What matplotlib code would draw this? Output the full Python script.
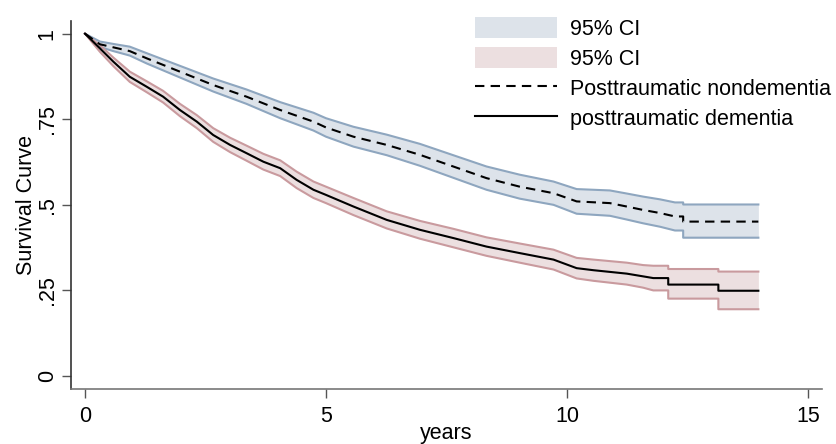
import matplotlib
matplotlib.use("Agg")
import matplotlib.pyplot as plt
from matplotlib.patches import Patch
from matplotlib.lines import Line2D

plt.rcParams['font.family'] = ['Liberation Sans', 'DejaVu Sans']

# Posttraumatic nondementia (dashed)
t_nd = [0, 0.31, 0.59, 0.93, 1.28, 1.97, 2.66, 3.35, 4.05, 4.74, 5.0, 5.57, 6.26,
        6.95, 7.64, 8.33, 9.02, 9.72, 10.2, 10.89, 11.24, 11.58, 11.93, 12.24,
        12.41, 12.41, 13.97]
s_nd = [1, 0.969, 0.960, 0.949, 0.928, 0.889, 0.850, 0.816, 0.777, 0.743, 0.726,
        0.699, 0.675, 0.646, 0.612, 0.578, 0.553, 0.534, 0.510, 0.505, 0.495,
        0.485, 0.476, 0.466, 0.466, 0.451, 0.451]
lo_nd = [1, 0.961, 0.949, 0.936, 0.913, 0.872, 0.831, 0.795, 0.753, 0.717, 0.699,
         0.670, 0.645, 0.614, 0.579, 0.544, 0.518, 0.500, 0.474, 0.468, 0.457,
         0.446, 0.436, 0.425, 0.425, 0.404, 0.404]
hi_nd = [1, 0.977, 0.970, 0.962, 0.943, 0.906, 0.869, 0.837, 0.800, 0.769, 0.753,
         0.728, 0.705, 0.678, 0.645, 0.612, 0.588, 0.568, 0.546, 0.542, 0.533,
         0.524, 0.516, 0.507, 0.507, 0.501, 0.501]

# Posttraumatic dementia (solid)
t_d = [0, 0.31, 0.59, 0.93, 1.28, 1.62, 1.97, 2.32, 2.66, 3.01, 3.35, 3.70, 4.05,
       4.39, 4.74, 5.0, 5.57, 6.26, 6.95, 7.64, 8.33, 9.02, 9.72, 10.2, 10.55,
       11.24, 11.58, 11.79, 12.1, 12.1, 13.14, 13.14, 13.97]
s_d = [1, 0.957, 0.918, 0.874, 0.845, 0.816, 0.777, 0.743, 0.704, 0.675, 0.651,
       0.626, 0.607, 0.573, 0.544, 0.529, 0.495, 0.456, 0.427, 0.403, 0.378,
       0.359, 0.340, 0.315, 0.309, 0.299, 0.291, 0.286, 0.286, 0.267, 0.267,
       0.249, 0.249]
lo_d = [1, 0.947, 0.905, 0.859, 0.829, 0.799, 0.759, 0.724, 0.684, 0.654, 0.629,
        0.603, 0.584, 0.549, 0.520, 0.505, 0.470, 0.431, 0.401, 0.376, 0.351,
        0.331, 0.311, 0.285, 0.278, 0.267, 0.258, 0.250, 0.250, 0.226, 0.226,
        0.195, 0.195]
hi_d = [1, 0.966, 0.930, 0.889, 0.861, 0.833, 0.795, 0.762, 0.724, 0.696, 0.673,
        0.649, 0.630, 0.597, 0.568, 0.553, 0.520, 0.481, 0.453, 0.430, 0.405,
        0.387, 0.369, 0.345, 0.340, 0.331, 0.324, 0.322, 0.322, 0.3125, 0.3125,
        0.305, 0.305]

x_ticks = [0, 5, 10, 15]
y_ticks = [0, 0.25, 0.5, 0.75, 1]
y_labels = ['0', '.25', '.5', '.75', '1']

blue_fill, blue_edge = '#dde3ea', '#8ea6bf'
red_fill, red_edge = '#ecdfe0', '#c99a9e'

fig = plt.figure(figsize=(8.37, 4.44), dpi=100)
ax = fig.add_axes([71 / 837, 1 - 389 / 444, 751 / 837, 368 / 444])

# confidence bands
ax.fill_between(t_nd, lo_nd, hi_nd, color=blue_fill, lw=0, zorder=1)
ax.plot(t_nd, lo_nd, color=blue_edge, lw=1.5, zorder=2)
ax.plot(t_nd, hi_nd, color=blue_edge, lw=1.5, zorder=2)
ax.fill_between(t_d, lo_d, hi_d, color=red_fill, lw=0, zorder=1)
ax.plot(t_d, lo_d, color=red_edge, lw=1.5, zorder=2)
ax.plot(t_d, hi_d, color=red_edge, lw=1.5, zorder=2)

# survival curves
ax.plot(t_nd, s_nd, color='black', lw=1.5, dashes=(4.5, 3), zorder=3)
ax.plot(t_d, s_d, color='black', lw=1.5, zorder=3)

ax.set_xlim(-0.29, 15.29)
ax.set_ylim(-0.038, 1.037)
ax.set_xticks(x_ticks)
ax.set_yticks(y_ticks)
ax.set_yticklabels(y_labels, rotation=90, va='center')
ax.tick_params(axis='both', length=6.5, width=1, color='#555555', labelsize=15.5)
ax.tick_params(axis='y', pad=3)
ax.tick_params(axis='x', pad=6)

for s in ['top', 'right']:
    ax.spines[s].set_visible(False)
ax.spines['left'].set_color('#333333')
ax.spines['bottom'].set_color('#777777')
ax.spines['left'].set_linewidth(1.2)
ax.spines['bottom'].set_linewidth(1.2)

ax.set_ylabel('Survival Curve', fontsize=15.5, labelpad=0)
ax.set_xlabel('years', fontsize=15.5, labelpad=-3)

handles = [Patch(facecolor=blue_fill, edgecolor='none'),
           Patch(facecolor=red_fill, edgecolor='none'),
           Line2D([], [], color='black', lw=1.5, dashes=(4.5, 3)),
           Line2D([], [], color='black', lw=1.5)]
labels = ['95% CI', '95% CI', 'Posttraumatic nondementia', 'posttraumatic dementia']
fig.legend(handles, labels, loc='upper left', bbox_to_anchor=(475 / 837, 1 - 17 / 444),
           bbox_transform=fig.transFigure, frameon=False, fontsize=15.5,
           handlelength=3.8, handleheight=1.1, handletextpad=0.6,
           labelspacing=0.34, borderpad=0, borderaxespad=0)

fig.savefig('out.png', dpi=100)
